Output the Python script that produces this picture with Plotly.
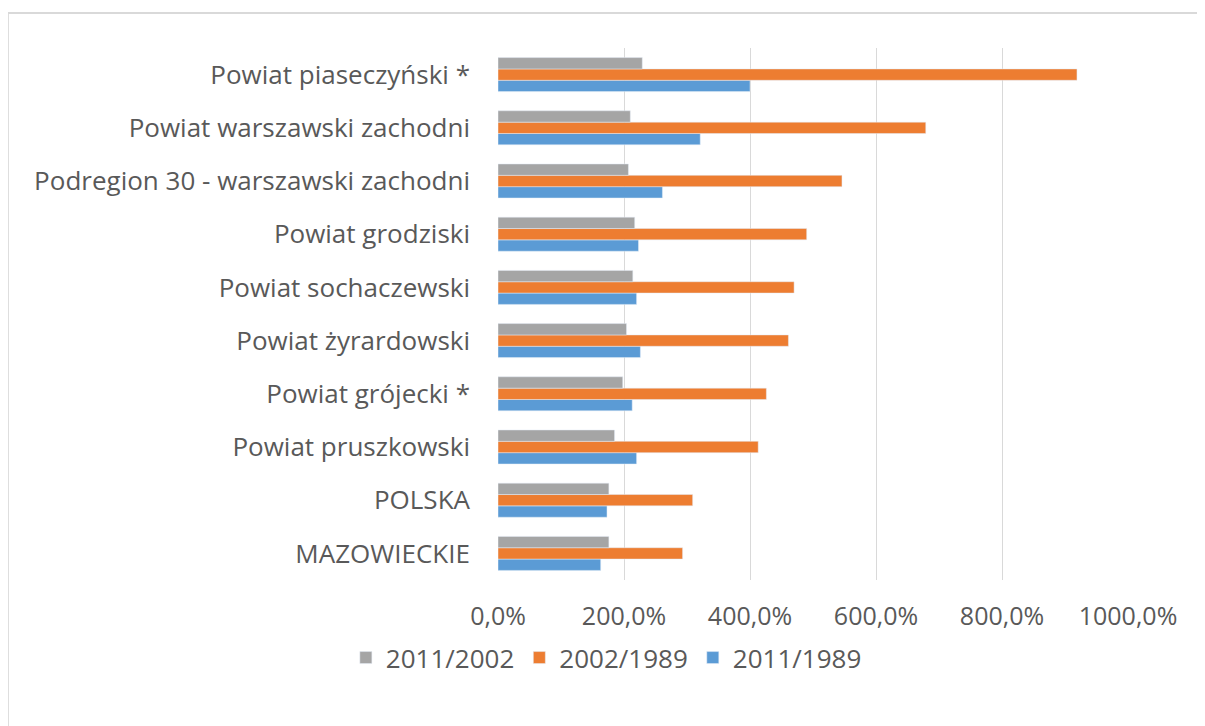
import plotly.graph_objects as go

categories = [
    "MAZOWIECKIE",
    "POLSKA",
    "Powiat pruszkowski",
    "Powiat grójecki *",
    "Powiat żyrardowski",
    "Powiat sochaczewski",
    "Powiat grodziski",
    "Podregion 30 - warszawski zachodni",
    "Powiat warszawski zachodni",
    "Powiat piaseczyński *",
]
s_2011_2002 = [176, 176, 185, 198, 204, 214, 217, 207, 210, 229]
s_2002_1989 = [293, 309, 413, 426, 461, 470, 490, 546, 679, 919]
s_2011_1989 = [163, 173, 220, 213, 226, 220, 223, 261, 321, 400]

tick_vals = [0, 200, 400, 600, 800, 1000]
tick_text = ["0,0%", "200,0%", "400,0%", "600,0%", "800,0%", "1000,0%"]

font_family = "Open Sans, Liberation Sans, sans-serif"
text_color = "#595959"

fig = go.Figure()
fig.add_trace(go.Bar(y=categories, x=s_2011_1989, orientation="h", name="2011/1989",
                     marker=dict(color="#5B9BD5")))
fig.add_trace(go.Bar(y=categories, x=s_2002_1989, orientation="h", name="2002/1989",
                     marker=dict(color="#ED7D31")))
fig.add_trace(go.Bar(y=categories, x=s_2011_2002, orientation="h", name="2011/2002",
                     marker=dict(color="#A5A5A5")))

# page is offset by the 8px body margin, so the margins are shifted by 8px
fig.update_layout(
    width=1205, height=726,
    margin=dict(l=490, r=85, t=40, b=154),
    paper_bgcolor="white", plot_bgcolor="white",
    barmode="group", bargap=0.36, bargroupgap=0,
    font=dict(family=font_family, size=25, color=text_color),
    showlegend=True,
    legend=dict(orientation="h", traceorder="reversed", x=0.172, xanchor="center",
                y=-0.146, yanchor="middle", font=dict(size=26, color=text_color),
                itemwidth=30),
    xaxis=dict(range=[0, 1000], tickvals=tick_vals, ticktext=tick_text,
               showgrid=True, gridcolor="#D9D9D9", gridwidth=1, zeroline=False,
               showline=False, ticks="", ticklabelstandoff=19, fixedrange=True),
    yaxis=dict(type="category", showgrid=False, zeroline=False, showline=False,
               ticks="", ticklabelstandoff=27, fixedrange=True,
               tickfont=dict(size=26)),
    shapes=[dict(type="rect", xref="paper", yref="paper", x0=-0.778, x1=2, y0=-2, y1=1.0657,
                 line=dict(color="#D9D9D9", width=2), fillcolor="rgba(0,0,0,0)", layer="below")],
)

fig.write_html("out.html")
